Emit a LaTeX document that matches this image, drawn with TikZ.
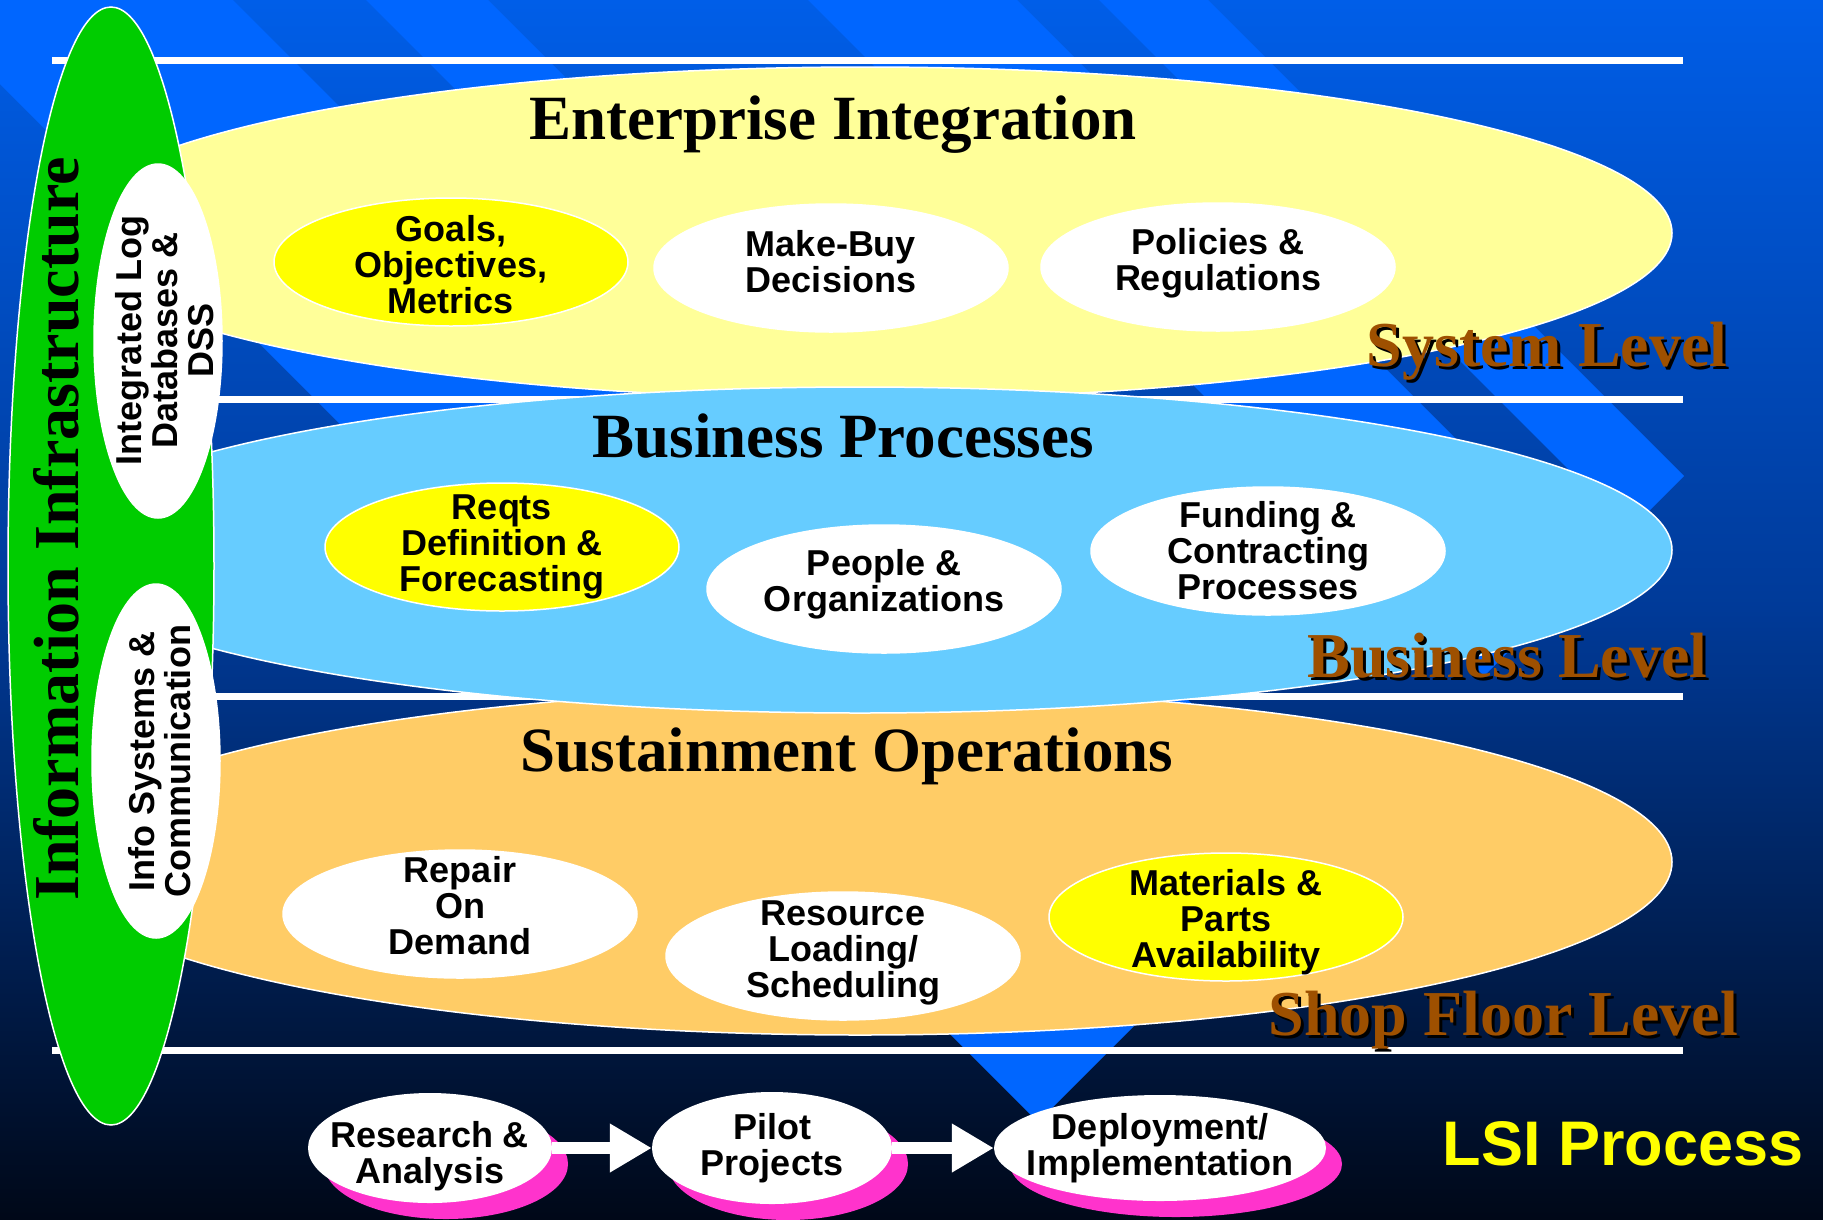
\documentclass[tikz,border=0pt]{standalone}
\usepackage{fontspec}
\setmainfont{Liberation Serif}
\setsansfont{Liberation Sans}
\usetikzlibrary{shapes.geometric,arrows.meta,shadows}

\definecolor{bgtop}{HTML}{005EE8}
\definecolor{bgmid}{HTML}{003A98}
\definecolor{bgbot}{HTML}{000818}
\definecolor{stripe}{HTML}{0066FF}
\definecolor{sysfill}{HTML}{FFFF99}
\definecolor{busfill}{HTML}{66CCFF}
\definecolor{shopfill}{HTML}{FFCC66}
\definecolor{infofill}{HTML}{00CC00}
\definecolor{keyfill}{HTML}{FFFF00}
\definecolor{lvlbrown}{HTML}{9E5000}
\definecolor{lsipink}{HTML}{FF33CC}

\tikzset{
  bandshape/.style={ellipse,draw=white,line width=1.5pt,inner sep=0pt},
  cell/.style={ellipse,draw=white,line width=1.5pt,fill=white,inner sep=0pt,
    minimum width=354pt,minimum height=128pt},
  celltext/.style={align=center,font=\sffamily\bfseries\fontsize{36}{36}\selectfont},
  layertitle/.style={anchor=base,font=\bfseries\fontsize{63}{63}\selectfont},
  lvltxt/.style={anchor=base west,text=lvlbrown,font=\bfseries\fontsize{64}{64}\selectfont},
  lvlshadow/.style={lvltxt,text=black},
  stage/.style={ellipse,fill=white,inner sep=0pt,
    drop shadow={shadow xshift=16pt,shadow yshift=-16pt,fill=lsipink,opacity=1}},
  flow/.style={white,line width=12pt,-{Triangle[length=42pt,width=46pt]}},
}

\begin{document}
\begin{tikzpicture}[x=1pt,y=-1pt]
  \useasboundingbox (0,0) rectangle (1823,1219);
  \clip (0,0) rectangle (1823,1219);

  % backdrop: gradient and the diagonal band
  \fill[top color=bgtop,bottom color=bgbot,middle color=bgmid] (0,0) rectangle (1823,1219);
  \foreach \a/\b in {-84/233,366/488,808/1017,1099/1208}
    \fill[stripe] ({\a-60},-60) -- ({\b-60},-60) -- ({(2160+\b)/2},{(2160-\b)/2})
      -- ({(2160+\a)/2},{(2160-\a)/2}) -- cycle;
  \foreach \y in {60,399,696,1050}
    \draw[white,line width=7pt] (52,\y) -- (1683,\y);

  % the three levels
  \node[bandshape,fill=sysfill,minimum width=1614pt,minimum height=332pt] (sys) at (865,233) {};
  \node[bandshape,fill=shopfill,minimum width=1624pt,minimum height=346pt] (shop) at (860,862) {};
  \node[bandshape,fill=busfill,minimum width=1624pt,minimum height=326pt] (bus) at (860,550) {};
  \node[layertitle] (sysT) at (833,139) {Enterprise Integration};
  \node[layertitle] (busT) at (843,457) {Business Processes};
  \node[layertitle] (shopT) at (847,771) {Sustainment Operations};

  \node[cell,fill=keyfill] (goals) at (451,262) {};
  \node[celltext] (goalsT) at ([yshift=-3pt]goals) {Goals,\\Objectives,\\Metrics};
  \node[cell] (mkbuy) at (831,268) {};
  \node[celltext] (mkbuyT) at ([yshift=6pt]mkbuy) {Make-Buy\\Decisions};
  \node[cell] (policy) at (1218,267) {};
  \node[celltext] (policyT) at ([yshift=4pt]policy) {Policies \&\\Regulations};

  \node[cell,fill=keyfill] (reqts) at (502,547) {};
  \node[celltext] (reqtsT) at (reqts) {Reqts\\Definition \&\\Forecasting};
  \node[cell] (people) at (884,589) {};
  \node[celltext] (peopleT) at ([yshift=5pt]people) {People \&\\Organizations};
  \node[cell] (funding) at (1268,551) {};
  \node[celltext] (fundingT) at (funding) {Funding \&\\Contracting\\Processes};

  \node[cell] (repair) at (460,914) {};
  \node[celltext] (repairT) at ([yshift=8pt]repair) {Repair\\On\\Demand};
  \node[cell] (resload) at (843,956) {};
  \node[celltext] (resloadT) at ([yshift=3pt]resload) {Resource\\Loading/\\Scheduling};
  \node[cell,fill=keyfill] (matl) at (1226,917) {};
  \node[celltext] (matlT) at ([yshift=-5pt]matl) {Materials \&\\Parts\\Availability};

  % information infrastructure column
  \node[ellipse,draw=white,line width=1.5pt,fill=infofill,inner sep=0pt,
    minimum width=206pt,minimum height=1118pt] (infra) at (111,566) {};
  \node[rotate=90,anchor=base,font=\bfseries\fontsize{64}{64}\selectfont]
    (infraT) at (78,529) {Information Infrastructure};
  \node[cell,rotate=90] (ildb) at (158,341) {};
  \node[celltext,rotate=90] (ildbT) at (165,340) {Integrated Log\\Databases \&\\DSS};
  \node[cell,rotate=90] (iscom) at (156,761) {};
  \node[celltext,rotate=90] (iscomT) at (160,761) {Info Systems \&\\Communication};

  % level names with their shadow
  \node[lvlshadow] (sysLs) at (1366,369) {System Level};
  \node[lvltxt] (sysL) at (1363,366) {System Level};
  \node[lvlshadow] (busLs) at (1307,680) {Business Level};
  \node[lvltxt] (busL) at (1304,677) {Business Level};
  \node[lvlshadow] (shopLs) at (1268,1038) {Shop Floor Level};
  \node[lvltxt] (shopL) at (1265,1035) {Shop Floor Level};

  % LSI process
  \node[stage,minimum width=244pt,minimum height=110pt] (research) at (430,1148) {};
  \node[celltext] (researchT) at ([yshift=-8pt]research) {Research \&\\Analysis};
  \node[stage,minimum width=240pt,minimum height=112pt] (pilot) at (772,1148) {};
  \node[celltext] (pilotT) at (pilot) {Pilot\\Projects};
  \node[stage,minimum width=332pt,minimum height=106pt] (deploy) at (1160,1148) {};
  \node[celltext] (deployT) at (deploy) {Deployment/\\Implementation};
  \draw[flow] (research) -- (pilot);
  \draw[flow] (pilot) -- (deploy);
  \node[anchor=base west,text=keyfill,font=\sffamily\bfseries\fontsize{63}{63}\selectfont]
    (lsi) at (1439,1165) {LSI Process};
\end{tikzpicture}
\end{document}
